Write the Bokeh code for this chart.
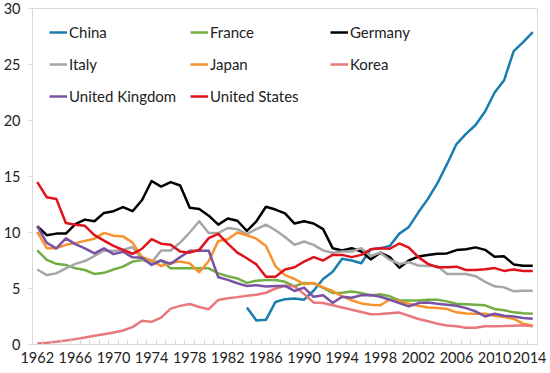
import math
from bokeh.plotting import figure
from bokeh.models import Range1d, FixedTicker, Legend, LegendItem
from bokeh.embed import file_html
from bokeh.resources import INLINE

years = list(range(1962, 2015))

china = [None] * 22 + [3.3, 2.15, 2.2, 3.8, 4.05, 4.1, 4.0, 4.8, 5.85, 6.5,
                       7.65, 7.5, 7.25, 8.5, 8.6, 8.8, 9.9, 10.5, 11.8, 13.0,
                       14.4, 16.1, 17.9, 18.8, 19.6, 20.8, 22.5, 23.6, 26.2, 27.0, 27.9]
france = [8.4, 7.55, 7.2, 7.1, 6.8, 6.65, 6.3, 6.4, 6.7, 6.95, 7.4, 7.55, 7.25, 7.5,
          6.8, 6.8, 6.8, 6.8, 6.8, 6.35, 6.1, 5.9, 5.5, 5.7, 5.75, 5.75, 5.6, 5.2,
          5.5, 5.45, 5.05, 4.6, 4.62, 4.73, 4.6, 4.37, 4.48, 4.3, 3.93, 3.93, 3.93,
          4.0, 4.0, 3.85, 3.64, 3.6, 3.55, 3.5, 3.17, 3.05, 2.87, 2.8, 2.75]
germany = [10.56, 9.76, 9.9, 9.9, 10.75, 11.15, 11.0, 11.75, 11.9, 12.27, 11.9, 12.9,
           14.6, 14.1, 14.5, 14.2, 12.2, 12.1, 11.5, 10.7, 11.25, 11.05, 10.15, 11.0,
           12.3, 12.05, 11.7, 10.8, 11.0, 10.8, 10.3, 8.6, 8.4, 8.6, 8.3, 7.6, 8.2,
           7.8, 6.85, 7.5, 7.85, 8.0, 8.1, 8.13, 8.43, 8.5, 8.67, 8.45, 7.83, 7.87,
           7.15, 7.04, 7.04]
italy = [6.7, 6.2, 6.35, 6.8, 7.2, 7.45, 7.9, 8.4, 8.35, 8.45, 8.7, 7.6, 7.3, 8.4,
         8.4, 9.1, 10.0, 11.0, 9.95, 9.95, 10.4, 10.3, 9.85, 10.3, 10.7, 10.2, 9.6,
         8.9, 9.2, 8.9, 8.4, 8.2, 8.3, 8.3, 8.6, 7.9, 8.2, 7.55, 7.2, 7.35, 7.05,
         7.0, 7.0, 6.3, 6.3, 6.3, 6.1, 5.6, 5.2, 5.1, 4.75, 4.8, 4.8]
japan = [10.05, 8.6, 8.6, 8.9, 9.05, 9.25, 9.45, 9.97, 9.72, 9.65, 9.1, 7.8, 7.5,
         7.0, 7.3, 7.4, 7.25, 6.45, 7.45, 9.25, 9.4, 10.0, 9.75, 9.45, 8.8, 7.0,
         6.2, 5.85, 5.4, 5.5, 5.1, 4.78, 4.3, 3.95, 3.67, 3.55, 3.5, 4.02, 3.85,
         3.64, 3.46, 3.31, 3.25, 3.17, 2.87, 2.77, 2.75, 2.75, 2.57, 2.45, 2.28,
         1.86, 1.69]
korea = [0.08, 0.15, 0.25, 0.35, 0.48, 0.62, 0.78, 0.92, 1.08, 1.25, 1.55, 2.12,
         2.02, 2.4, 3.2, 3.45, 3.62, 3.35, 3.15, 3.98, 4.13, 4.23, 4.35, 4.45, 4.62,
         5.0, 5.25, 5.2, 4.5, 3.75, 3.7, 3.5, 3.3, 3.1, 2.9, 2.7, 2.72, 2.8, 2.85,
         2.57, 2.28, 2.07, 1.86, 1.69, 1.62, 1.5, 1.5, 1.62, 1.64, 1.65, 1.68, 1.72,
         1.62]
uk = [10.56, 9.08, 8.58, 9.47, 8.96, 8.58, 8.13, 8.58, 8.07, 8.28, 7.78, 7.75, 7.1,
      7.5, 7.2, 7.8, 8.37, 8.37, 8.37, 6.0, 5.77, 5.47, 5.23, 5.3, 5.17, 5.22, 5.23,
      4.78, 5.08, 4.26, 4.4, 3.72, 4.26, 4.18, 4.4, 4.42, 4.26, 4.0, 3.7, 3.4, 3.7,
      3.75, 3.64, 3.55, 3.46, 3.25, 2.96, 2.5, 2.75, 2.57, 2.5, 2.37, 2.3]
us = [14.5, 13.15, 13.0, 10.85, 10.7, 10.6, 9.76, 9.27, 8.8, 8.45, 8.1, 8.55, 9.4,
      9.0, 8.9, 8.3, 8.2, 8.45, 9.5, 9.88, 9.0, 8.2, 7.7, 7.15, 6.05, 6.05, 6.7,
      6.9, 7.4, 7.8, 7.5, 8.0, 8.0, 7.8, 8.0, 8.5, 8.6, 8.55, 9.02, 8.65, 7.8, 7.2,
      6.9, 6.9, 6.95, 6.65, 6.65, 6.72, 6.82, 6.57, 6.7, 6.57, 6.57]

names = ["China", "France", "Germany", "Italy", "Japan", "Korea",
         "United Kingdom", "United States"]
colors = ["#1A7DB0", "#72AE44", "#000000", "#A6A6A6", "#F7922E", "#E8787C",
          "#7A52A3", "#E0121B"]
series = [china, france, germany, italy, japan, korea, uk, us]

y_ticks = [0, 5, 10, 15, 20, 25, 30]
x_label_years = list(range(1962, 2015, 4))

W, H = 546, 365
BL, BR, BT, BB = 32, 9, 8, 20
frame_h = H - BT - BB

p = figure(width=W, height=H, output_backend="svg", toolbar_location=None,
           x_range=Range1d(1961.5, 2014.5), y_range=Range1d(0, 30),
           min_border_left=BL, min_border_right=BR, min_border_top=BT,
           min_border_bottom=BB)
p.xgrid.grid_line_color = None
p.ygrid.grid_line_color = None
p.outline_line_color = "#D9D9D9"
p.background_fill_color = "white"
p.border_fill_color = "white"

renderers = {}
for name, col, vals in zip(names, colors, series):
    ys = [float("nan") if v is None else v for v in vals]
    r = p.line(years, ys, line_color=col, line_width=2.5, line_join="round")
    renderers[name] = r

font = "Lato"
xa = p.xaxis[0]
xa.ticker = FixedTicker(ticks=x_label_years,
                        minor_ticks=[y - 0.5 for y in years] + [2014.5])
xa.major_tick_line_color = None
xa.minor_tick_line_color = "#D9D9D9"
xa.minor_tick_in = 5
xa.minor_tick_out = 0
xa.axis_line_color = "#D9D9D9"
xa.major_label_text_font = font
xa.major_label_text_font_size = "14.5px"
xa.major_label_text_color = "#222222"
xa.major_label_standoff = 1

ya = p.yaxis[0]
ya.ticker = FixedTicker(ticks=y_ticks)
ya.minor_tick_line_color = None
ya.major_tick_line_color = "#D9D9D9"
ya.major_tick_out = 4
ya.major_tick_in = 0
ya.axis_line_color = "#D9D9D9"
ya.major_label_text_font = font
ya.major_label_text_font_size = "14.5px"
ya.major_label_text_color = "#222222"
ya.major_label_standoff = 8

cols = [["China", "Italy", "United Kingdom"],
        ["France", "Japan", "United States"],
        ["Germany", "Korea"]]
xs = [17, 158, 298]
for c, xl in zip(cols, xs):
    items = [LegendItem(label=n, renderers=[renderers[n]]) for n in c]
    h = 20 * len(c) + 12 * (len(c) - 1)
    leg = Legend(items=items, location=(xl, frame_h - 15 - h), orientation="vertical",
                 spacing=12, padding=0, margin=0, glyph_width=18, glyph_height=20,
                 label_height=20, label_standoff=2,
                 label_text_font=font, label_text_font_size="15px",
                 label_text_color="#222222",
                 border_line_alpha=0, background_fill_alpha=0)
    p.add_layout(leg, "center")

open("out.html", "w").write(file_html(p, INLINE))
